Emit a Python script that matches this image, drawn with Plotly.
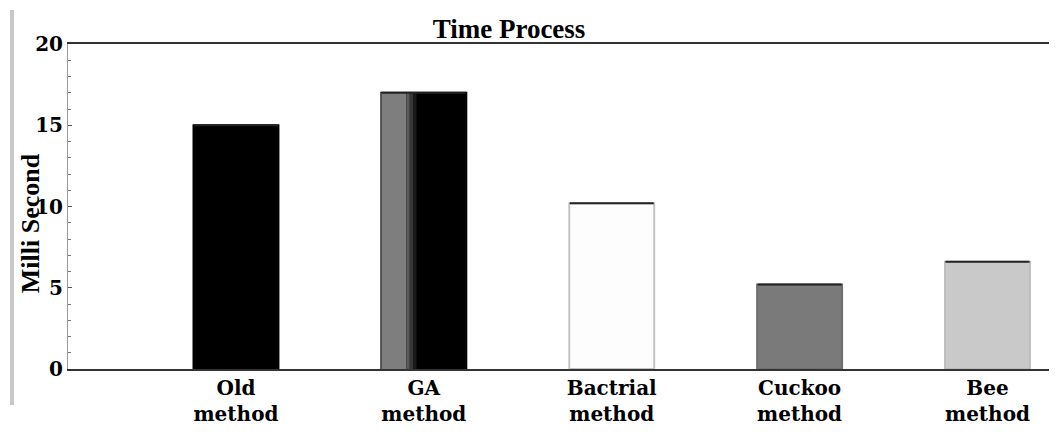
import plotly.graph_objects as go

categories = ["Old<br>method", "GA<br>method", "Bactrial<br>method", "Cuckoo<br>method", "Bee<br>method"]
values = [15.0, 17.0, 10.2, 5.2, 6.6]
bar_colors = ["#000000", "#000000", "#fdfdfd", "#7a7a7a", "#c9c9c9"]
edge_colors = ["#000000", "#000000", "#c4c4c4", "#6e6e6e", "#bdbdbd"]
y_ticks = [0, 5, 10, 15, 20]

FONT = "Liberation Serif"
WIDE = "DejaVu Serif"
BAR_W = 0.452

fig = go.Figure()
fig.add_trace(go.Bar(
    x=categories, y=values, width=BAR_W,
    marker=dict(color=bar_colors, line=dict(color=edge_colors, width=2)),
    showlegend=False, hoverinfo="x+y",
))

# gray-to-black shading on the left part of the GA bar
ga = categories[1]
ga_val = values[1]
shade = [("#7e7e7e", 0.133), ("#5a5a5a", 0.018), ("#383838", 0.018), ("#1a1a1a", 0.018)]
left = -BAR_W / 2
for col, w in shade:
    fig.add_trace(go.Bar(
        x=[ga], y=[ga_val], width=w, offset=left,
        marker=dict(color=col, line=dict(width=0)),
        showlegend=False, hoverinfo="skip",
    ))
    left += w

# dark top edge of each bar
fig.add_trace(go.Scatter(
    x=categories, y=values, mode="markers",
    marker=dict(symbol="line-ew-open", size=60, color="#222222",
                line=dict(color="#222222", width=2)),
    showlegend=False, hoverinfo="skip",
))

# the page body has an 8px margin, so the figure is 8px smaller
fig.update_layout(
    width=1049, height=429, autosize=False,
    margin=dict(l=60, r=0, t=36, b=68),
    plot_bgcolor="white", paper_bgcolor="white",
    barmode="overlay",
    font=dict(family=FONT, color="black"),
    title=dict(text="<b>Time Process</b>", x=0.4776, xanchor="center",
               y=1 - 21 / 429, yanchor="middle",
               font=dict(family=FONT, size=27, color="black")),
    xaxis=dict(
        type="category", range=[-0.894, 4.37],
        showline=True, linecolor="#333333", linewidth=2, mirror=True,
        ticks="", showgrid=False, zeroline=False,
        tickfont=dict(family=WIDE, size=20, color="black", weight="bold"),
    ),
    yaxis=dict(
        range=[0, 20], tickvals=y_ticks,
        showline=True, linecolor="#9a9a9a", linewidth=1,
        ticks="inside", ticklen=4, tickcolor="#555555",
        minor=dict(dtick=1, ticks="inside", ticklen=3, tickcolor="#777777"),
        showgrid=False, zeroline=False,
        tickfont=dict(family=WIDE, size=20, color="black", weight="bold"),
    ),
    annotations=[dict(
        text="<b>Milli Second</b>", textangle=-90,
        xref="paper", yref="paper", x=-0.038, y=0.45,
        xanchor="center", yanchor="middle", showarrow=False,
        font=dict(family=FONT, size=26, color="black"),
    )],
    shapes=[dict(
        type="line", xref="paper", yref="paper",
        x0=-0.0566, x1=-0.0566, y0=-0.111, y1=1.105,
        line=dict(color="#c8c8c8", width=4),
    )],
)

fig.write_html("out.html")
